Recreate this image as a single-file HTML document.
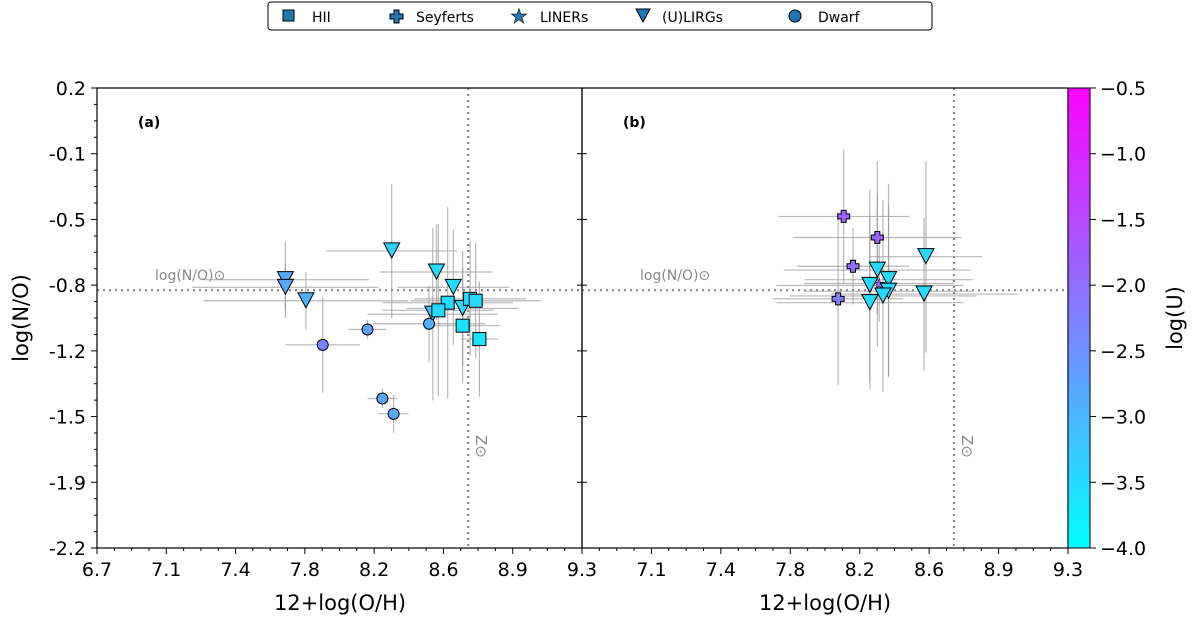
<!DOCTYPE html>
<html><head><meta charset="utf-8"><style>
body{margin:0;background:#fff;}
svg text{font-family:"DejaVu Sans","Liberation Sans",sans-serif;}
</style></head><body>
<svg id="chart" width="1200" height="622" xmlns="http://www.w3.org/2000/svg">
<defs><linearGradient id="cool" x1="0" y1="1" x2="0" y2="0"><stop offset="0" stop-color="#00ffff"/><stop offset="1" stop-color="#ff00ff"/></linearGradient></defs>
<g id="legend">
<rect x="268" y="2" width="664" height="28" fill="#fff" stroke="#000" stroke-width="1" rx="3"/>
<rect x="283" y="10" width="11" height="11" fill="#1f77b4" stroke="#000"/>
<text x="312" y="22" font-size="14">HII</text>
<path d="M394,10h5v4h4v5h-4v4h-5v-4h-4v-5h4z" fill="#1f77b4" stroke="#000"/>
<text x="416" y="22" font-size="14">Seyferts</text>
<text x="510" y="23" font-size="20" fill="#1f77b4" stroke="#000" stroke-width="0.6">★</text>
<text x="540" y="22" font-size="14">LINERs</text>
<path d="M636,9h14l-7,13z" fill="#1f77b4" stroke="#000"/>
<text x="662" y="22" font-size="14">(U)LIRGs</text>
<circle cx="795" cy="16" r="6" fill="#1f77b4" stroke="#000"/>
<text x="818" y="22" font-size="14">Dwarf</text>
</g>
<g id="plot"></g>
<text x="28" y="318" font-size="21" text-anchor="middle" transform="rotate(-90 28 318)">log(N/O)</text>
<text x="340" y="610" font-size="21" text-anchor="middle">12+log(O/H)</text>
<text x="825" y="610" font-size="21" text-anchor="middle">12+log(O/H)</text>
<text x="1182" y="318" font-size="21" text-anchor="middle" transform="rotate(-90 1182 318)">log(U)</text>
</svg>
<script>
const xTicks=[6.7,7.1,7.4,7.8,8.2,8.6,8.9,9.3];
const yTicks=[0.2,-0.1,-0.5,-0.8,-1.2,-1.5,-1.9,-2.2];
const cTicks=[-0.5,-1.0,-1.5,-2.0,-2.5,-3.0,-3.5,-4.0];
const solarOH=8.69, solarNO=-0.855;
// panel a
const aType=['tri','tri','tri','tri','tri','tri','tri','tri','sq','sq','sq','sq','sq','sq','circ','circ','circ','circ','circ'];
const aX=[7.71,7.71,7.82,8.28,8.52,8.61,8.66,8.50,8.58,8.53,8.70,8.73,8.66,8.75,8.48,8.15,7.91,8.23,8.29];
const aY=[-0.80,-0.84,-0.91,-0.65,-0.76,-0.84,-0.95,-0.98,-0.92,-0.96,-0.90,-0.91,-1.04,-1.11,-1.03,-1.06,-1.14,-1.42,-1.50];
const aXerr=[0.45,0.5,0.55,0.35,0.3,0.3,0.3,0.35,0.35,0.3,0.3,0.35,0.2,0.1,0.3,0.1,0.2,0.08,0.08];
const aYerr=[0.2,0.12,0.15,0.35,0.25,0.3,0.3,0.45,0.5,0.45,0.3,0.3,0.3,0.3,0.2,0.05,0.25,0.05,0.1];
const aU=[-2.8,-2.8,-2.9,-3.4,-3.5,-3.5,-3.5,-3.2,-3.5,-3.5,-3.6,-3.5,-3.6,-3.6,-2.9,-2.7,-2.3,-2.8,-2.8];
// panel b
const bType=['plus','plus','plus','plus','star','tri','tri','tri','tri','tri','tri','tri','tri'];
const bX=[8.10,8.28,8.15,8.07,8.29,8.54,8.28,8.34,8.24,8.34,8.31,8.24,8.53];
const bY=[-0.47,-0.58,-0.73,-0.90,-0.82,-0.68,-0.75,-0.80,-0.83,-0.86,-0.885,-0.92,-0.875];
const bXerr=[0.35,0.45,0.3,0.35,0.4,0.3,0.5,0.45,0.5,0.45,0.5,0.5,0.5];
const bYerr=[0.35,0.4,0.2,0.45,0.2,0.5,0.4,0.5,0.5,0.45,0.5,0.45,0.4];
const bU=[-1.8,-1.8,-2.0,-2.2,-1.8,-3.5,-3.5,-3.5,-3.5,-3.5,-3.5,-3.5,-3.5];

const NS='http://www.w3.org/2000/svg';
const g=document.getElementById('plot');
const T=88,B=548,xmin=6.7,xmax=9.3,ymin=-2.2,ymax=0.2;
const panels=[{L:97,R:582,name:'a'},{L:582,R:1068,name:'b'}];
function sx(p,v){return p.L+(v-xmin)/(xmax-xmin)*(p.R-p.L);}
function sy(v){return B-(v-ymin)/(ymax-ymin)*(B-T);}
function mk(tag,attrs,parent){const e=document.createElementNS(NS,tag);for(const k in attrs)e.setAttribute(k,attrs[k]);(parent||g).appendChild(e);return e;}
function cmap(u){const t=Math.max(0,Math.min(1,(u+4)/3.5));return 'rgb('+Math.round(255*t)+','+Math.round(255*(1-t))+',255)';}
function tpos(p,i){return p.L+i*(p.R-p.L)/(xTicks.length-1);}
function ypos(i){return T+i*(B-T)/(yTicks.length-1);}

panels.forEach((p,pi)=>{
  let l=mk('line',{x1:p.L,x2:p.R,y1:sy(solarNO),y2:sy(solarNO),stroke:'#888','stroke-width':2.2,'stroke-dasharray':'2,4'});
  
  
  l=mk('line',{x1:sx(p,solarOH),x2:sx(p,solarOH),y1:T,y2:B,stroke:'#888','stroke-width':2.2,'stroke-dasharray':'2,4'});
  
  
  let t=mk('text',{x:p.L+58,y:sy(solarNO)-10,'font-size':14,fill:'#888'});t.textContent='log(N/O)⊙';
  
  
  const zx=sx(p,solarOH)+8;
  t=mk('text',{x:zx,y:435,'font-size':15,fill:'#888',transform:'rotate(90 '+zx+' 435)'});t.textContent='Z⊙';
  
  
  t=mk('text',{x:p.L+41,y:127,'font-size':14,'font-weight':'bold'});t.textContent='('+p.name+')';
  
  
  const X=pi?bX:aX,Y=pi?bY:aY,XE=pi?bXerr:aXerr,YE=pi?bYerr:aYerr,U=pi?bU:aU,TY=pi?bType:aType;
  for(let i=0;i<X.length;i++){
    const cx=sx(p,X[i]),cy=sy(Y[i]);
    let e=mk('line',{x1:sx(p,X[i]-XE[i]),x2:sx(p,X[i]+XE[i]),y1:cy,y2:cy,stroke:'#999','stroke-opacity':0.7,'stroke-width':1.2});
    
    
    e=mk('line',{x1:cx,x2:cx,y1:sy(Y[i]-YE[i]),y2:sy(Y[i]+YE[i]),stroke:'#999','stroke-opacity':0.7,'stroke-width':1.2});
    
    
  }
  for(let i=0;i<X.length;i++){
    const cx=sx(p,X[i]),cy=sy(Y[i]),c=cmap(U[i]);let e;
    if(TY[i]=='tri')e=mk('path',{d:`M${cx-8},${cy-8}h16l-8,15z`,fill:c,stroke:'#000','stroke-width':1});
    else if(TY[i]=='sq')e=mk('rect',{x:cx-6.5,y:cy-6.5,width:13,height:13,fill:c,stroke:'#000','stroke-width':1});
    else if(TY[i]=='circ')e=mk('circle',{cx:cx,cy:cy,r:5.5,fill:c,stroke:'#000','stroke-width':1});
    else if(TY[i]=='plus')e=mk('path',{d:`M${cx-2.5},${cy-6}h5v3.5h3.5v5h-3.5v3.5h-5v-3.5h-3.5v-5h3.5z`,fill:c,stroke:'#000','stroke-width':1});
    else {e=mk('text',{x:cx,y:cy+5,'font-size':14,'text-anchor':'middle',fill:c,stroke:'#000','stroke-width':0.5});e.textContent='★';}
    
    
  }
  const f=mk('rect',{x:p.L,y:T,width:p.R-p.L,height:B-T,fill:'none',stroke:'#000','stroke-width':1.2});
  
  
  xTicks.forEach((v,i)=>{
    const x=tpos(p,i);
    let tk=mk('line',{x1:x,x2:x,y1:B,y2:B+6,stroke:'#000'});
    
    
    if(i<xTicks.length-1)for(let k=1;k<4;k++){const mx=x+k*(p.R-p.L)/(xTicks.length-1)/4;mk('line',{x1:mx,x2:mx,y1:B,y2:B+3,stroke:'#000'});}
    const lab=(pi==1&&i==0)?null:v.toFixed(1);
    if(lab){const tt=mk('text',{x:x,y:B+28,'font-size':19,'text-anchor':'middle'});tt.textContent=lab;
      
      }
  });
});
yTicks.forEach((v,i)=>{
  const y=ypos(i);
  let tk=mk('line',{x1:91,x2:97,y1:y,y2:y,stroke:'#000'});
  
  
  mk('line',{x1:577,x2:587,y1:y,y2:y,stroke:'#000'});
  if(i<yTicks.length-1)for(let k=1;k<4;k++){const my=y+k*(B-T)/(yTicks.length-1)/4;mk('line',{x1:94,x2:97,y1:my,y2:my,stroke:'#000'});}
  const tt=mk('text',{x:86,y:y+7,'font-size':19,'text-anchor':'end'});tt.textContent=v.toFixed(1);
  
  
});
const cb=mk('rect',{x:1068,y:T,width:22,height:B-T,fill:'url(#cool)',stroke:'#000','stroke-width':1});


cTicks.forEach(v=>{
  const y=B-(v+4)/3.5*(B-T);
  let tk=mk('line',{x1:1090,x2:1096,y1:y,y2:y,stroke:'#000'});
  
  
  const tt=mk('text',{x:1100,y:y+7,'font-size':19});tt.textContent=(v<0?'−':'')+Math.abs(v).toFixed(1);
  
  
});
</script>
</body></html>
